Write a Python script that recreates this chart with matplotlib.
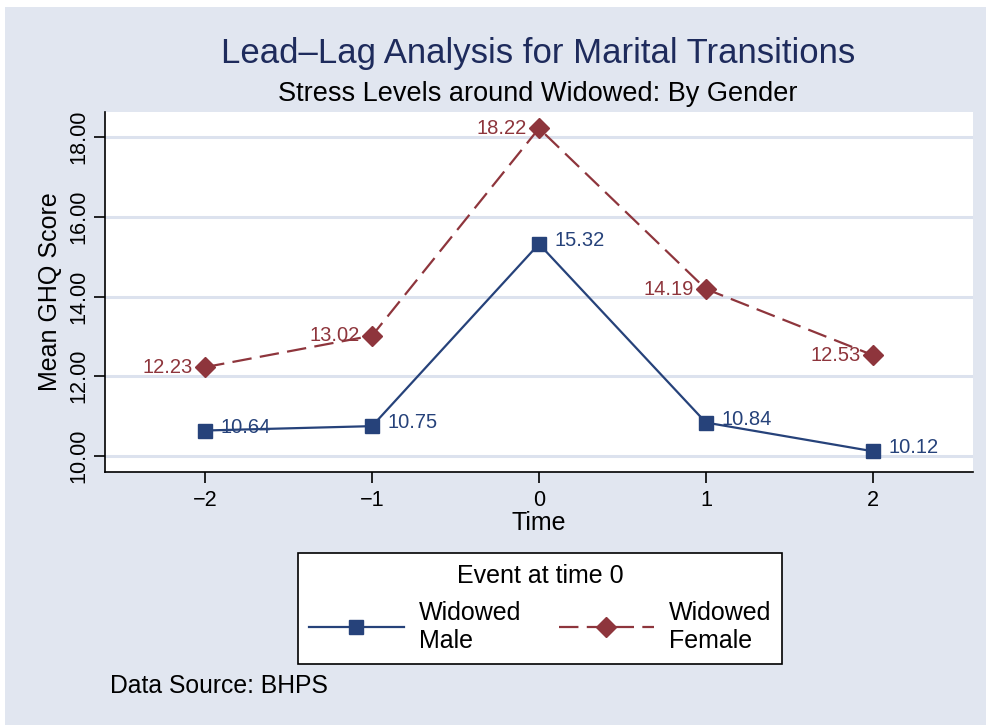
import matplotlib
matplotlib.use("Agg")
import matplotlib.pyplot as plt
from matplotlib.patches import Rectangle

plt.rcParams['font.family'] = ['Liberation Sans', 'DejaVu Sans']
plt.rcParams['lines.scale_dashes'] = False

time = [-2, -1, 0, 1, 2]
male = [10.64, 10.75, 15.32, 10.84, 10.12]
female = [12.23, 13.02, 18.22, 14.19, 12.53]
yticks = [10, 12, 14, 16, 18]
xticks = [-2, -1, 0, 1, 2]

BG = '#E1E6F0'
GRID = '#DCE2EE'
NAVY = '#26427A'
MAROON = '#8E353C'
TITLE = '#1E2B5C'

fig = plt.figure(figsize=(9.87, 7.25), dpi=100)
fig.patch.set_facecolor('white')
fig.patches.append(Rectangle((0.005, 0.0), 0.995, 0.990, transform=fig.transFigure,
                             facecolor=BG, edgecolor='none', zorder=-10))

ax = fig.add_axes([0.1064, 0.349, 0.8794, 0.4965])
ax.set_facecolor('white')
for s in ['top', 'right']:
    ax.spines[s].set_visible(False)
for s in ['left', 'bottom']:
    ax.spines[s].set_linewidth(1.2)

ax.set_xlim(-2.6, 2.6)
ax.set_ylim(9.6, 18.63)
ax.set_yticks(yticks)
ax.set_yticklabels([f'{v:.2f}' for v in yticks], rotation=90, va='center')
ax.set_xticks(xticks)
ax.set_xticklabels([str(v).replace('-', '\u2212') for v in xticks])
ax.tick_params(axis='both', labelsize=15.6, length=8, width=1.2, direction='out')
ax.tick_params(axis='y', pad=3)
ax.tick_params(axis='x', pad=5)
ax.grid(axis='y', color=GRID, linewidth=2.2)
ax.set_axisbelow(True)

ax.plot(time, male, color=NAVY, linewidth=1.6, marker='s', markersize=10,
        zorder=4, label='Widowed\nMale')
ax.plot(time, female, color=MAROON, linewidth=1.6, dashes=(14, 6), marker='D',
        markersize=10, zorder=4, label='Widowed\nFemale')

for x, y in zip(time, male):
    ax.annotate(f'{y:.2f}', (x, y), xytext=(11, 2.5), textcoords='offset points',
                ha='left', va='center', fontsize=14.5, color=NAVY, zorder=3)
for x, y in zip(time, female):
    ax.annotate(f'{y:.2f}', (x, y), xytext=(-9, 0), textcoords='offset points',
                ha='right', va='center', fontsize=14.5, color=MAROON, zorder=3)

ax.set_xlabel('Time', fontsize=18, labelpad=0)
ax.set_ylabel('Mean GHQ Score', fontsize=18, labelpad=5)

fig.text(0.545, 0.926, 'Lead\u2013Lag Analysis for Marital Transitions',
         ha='center', va='center', fontsize=25, color=TITLE)
fig.text(0.545, 0.870, 'Stress Levels around Widowed: By Gender',
         ha='center', va='center', fontsize=19.5, color='black')

leg = fig.legend(loc='upper center', bbox_to_anchor=(0.547, 0.2372),
                 ncol=2, fontsize=18, title='Event at time 0',
                 title_fontsize=18, frameon=True, fancybox=False, framealpha=1,
                 edgecolor='black', handlelength=3.8, handletextpad=0.6,
                 columnspacing=1.5, borderaxespad=0, borderpad=0.45)
leg.get_frame().set_linewidth(1.2)
leg.get_frame().set_facecolor('white')

fig.text(0.111, 0.054, 'Data Source: BHPS', ha='left', va='center', fontsize=17.8)

fig.savefig('out.png', dpi=100, facecolor=fig.get_facecolor())
